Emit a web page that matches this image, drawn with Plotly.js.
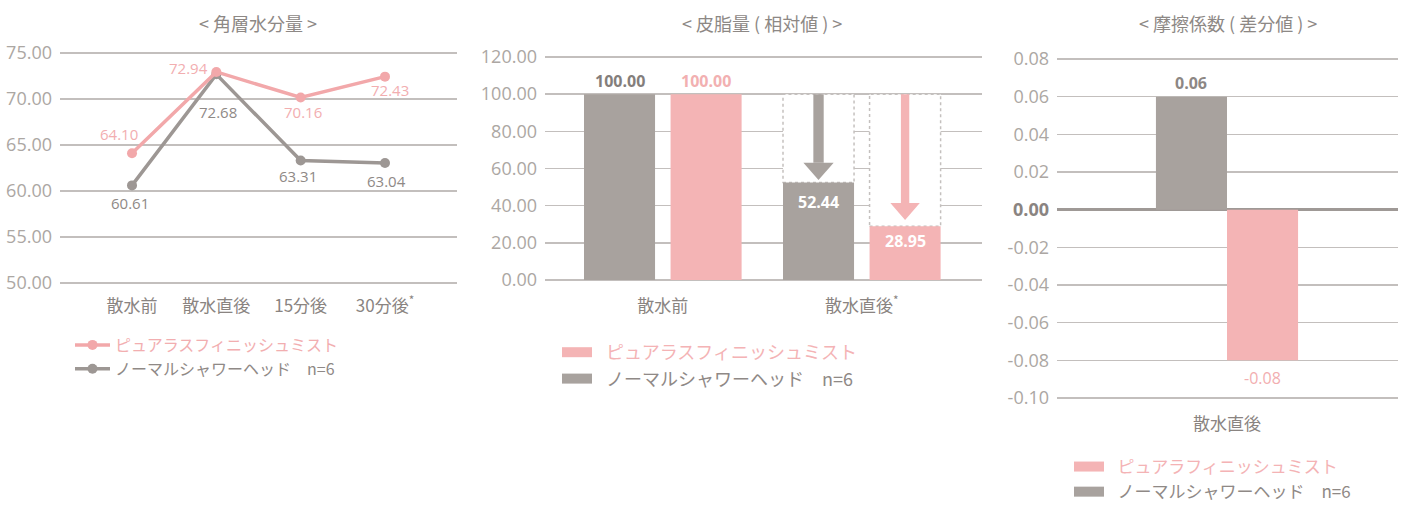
<!DOCTYPE html>
<html><head><meta charset="utf-8">
<script src="https://cdn.plot.ly/plotly-3.0.1.min.js"></script>
<style>html,body{margin:0;padding:0;background:#fff}#chart{width:1405px;height:505px}</style>
</head><body><div id="chart"></div>
<script>
// ---------- data ----------
const moistureCategories = ['散水前', '散水直後', '15分後', '30分後'];
const moistureTickText = ['散水前', '散水直後', '15分後', '30分後<sup>*</sup>'];
const moisturePure = [64.10, 72.94, 70.16, 72.43];
const moistureNormal = [60.61, 72.68, 63.31, 63.04];

const sebumCategories = ['散水前', '散水直後'];
const sebumTickText = ['散水前', '散水直後<sup>*</sup>'];
const sebumPure = [100.00, 28.95];
const sebumNormal = [100.00, 52.44];

const frictionCategories = ['散水直後'];
const frictionPure = [-0.08];
const frictionNormal = [0.06];
const frictionTickVals = [-0.10, -0.08, -0.06, -0.04, -0.02, 0.00, 0.02, 0.04, 0.06, 0.08];

const seriesPure = 'ピュアラスフィニッシュミスト';
const seriesPureFriction = 'ピュアラフィニッシュミスト';
const seriesNormal = 'ノーマルシャワーヘッド';
const sampleNote = 'n=6';
const chartTitles = ['< 角層水分量 >', '< 皮脂量 ( 相対値 ) >', '< 摩擦係数 ( 差分値 ) >'];

// ---------- style ----------
const W = 1405, H = 505;
const NUM = "'Open Sans', 'Noto Sans CJK JP', sans-serif";
const CJK = "'Noto Sans CJK JP', 'Open Sans', sans-serif";
const PINK_LINE = '#f2a8aa', GRAY_LINE = '#9d9794';
const PINK_BAR = '#f4b4b5', GRAY_BAR = '#a8a29e';
const PINK_TXT = '#f2aeb0', GRAY_TXT = '#8f8986';
const TICK = '#aca7a3', CAT = '#8a8481', GRID = '#c3bfbd';
const px = v => v / W, py = v => 1 - v / H;

const BW = 0.357;
const midOff = {normal: -0.396, pure: 0.039};
const rightOff = {normal: -0.357, pure: 0};

const traces = [];
// left line chart
traces.push({type: 'scatter', mode: 'lines+markers', x: moistureCategories, y: moistureNormal,
  name: '<span style="color:#8f8986">' + seriesNormal + '\u3000' + sampleNote + '</span>',
  line: {color: GRAY_LINE, width: 3.5}, marker: {color: GRAY_LINE, size: 10},
  xaxis: 'x', yaxis: 'y', legend: 'legend', legendrank: 2, hoverinfo: 'skip'});
traces.push({type: 'scatter', mode: 'lines+markers', x: moistureCategories, y: moisturePure,
  name: '<span style="color:#f2aeb0">' + seriesPure + '</span>',
  line: {color: PINK_LINE, width: 3.5}, marker: {color: PINK_LINE, size: 10},
  xaxis: 'x', yaxis: 'y', legend: 'legend', legendrank: 1, hoverinfo: 'skip'});

// middle bars
traces.push({type: 'bar', x: sebumCategories, y: sebumNormal, marker: {color: GRAY_BAR},
  width: BW, offset: midOff.normal, xaxis: 'x2', yaxis: 'y2', showlegend: false, hoverinfo: 'skip'});
traces.push({type: 'bar', x: sebumCategories, y: sebumPure, marker: {color: PINK_BAR},
  width: BW, offset: midOff.pure, xaxis: 'x2', yaxis: 'y2', showlegend: false, hoverinfo: 'skip'});
// right bars
traces.push({type: 'bar', x: frictionCategories, y: frictionNormal, marker: {color: GRAY_BAR},
  width: BW, offset: rightOff.normal, xaxis: 'x3', yaxis: 'y3', showlegend: false, hoverinfo: 'skip'});
traces.push({type: 'bar', x: frictionCategories, y: frictionPure, marker: {color: PINK_BAR},
  width: BW, offset: rightOff.pure, xaxis: 'x3', yaxis: 'y3', showlegend: false, hoverinfo: 'skip'});

// legend-only entries for the bar charts
function legendEntry(name, color, xa, ya, lg, lw) {
  return {type: 'scatter', mode: 'lines', x: [null], y: [null], name: name,
    line: {color: color, width: lw}, xaxis: xa, yaxis: ya, legend: lg, hoverinfo: 'skip'};
}
const SP = '\u2002';
traces.push(legendEntry(SP + '<span style="color:#f4b3b5">' + seriesPure + '</span>', PINK_BAR, 'x2', 'y2', 'legend2', 10));
traces.push(legendEntry(SP + '<span style="color:#8f8986">' + seriesNormal + '\u3000' + sampleNote + '</span>', GRAY_BAR, 'x2', 'y2', 'legend2', 10));
traces.push(legendEntry(SP + '<span style="color:#f4b3b5">' + seriesPureFriction + '</span>', PINK_BAR, 'x3', 'y3', 'legend3', 11));
traces.push(legendEntry(SP + '<span style="color:#8f8986">' + seriesNormal + '\u3000' + sampleNote + '</span>', GRAY_BAR, 'x3', 'y3', 'legend3', 11));

// ---------- annotations ----------
const ann = [];
chartTitles.forEach((t, i) => {
  const cx = [258, 762, 1228][i];
  ann.push({xref: 'paper', yref: 'paper', x: px(cx), y: py(23), text: t, showarrow: false,
    xanchor: 'center', yanchor: 'middle', font: {family: CJK, size: 18, color: '#8d8885'}});
});
const pureShift = [[-13, 19], [-28, 4], [2, -14], [5, -13]];
const normalShift = [[-2, -18], [2, -38], [-3, -15], [2, -18]];
moistureCategories.forEach((c, i) => {
  ann.push({xref: 'x', yref: 'y', x: i, y: moisturePure[i], text: moisturePure[i].toFixed(2),
    showarrow: false, xshift: pureShift[i][0], yshift: pureShift[i][1],
    font: {family: NUM, size: 15, color: PINK_TXT}});
  ann.push({xref: 'x', yref: 'y', x: i, y: moistureNormal[i], text: moistureNormal[i].toFixed(2),
    showarrow: false, xshift: normalShift[i][0], yshift: normalShift[i][1],
    font: {family: NUM, size: 15, color: GRAY_TXT}});
});
// middle labels
const gC = midOff.normal + BW / 2, pC = midOff.pure + BW / 2;
ann.push({xref: 'x2', yref: 'y2', x: 0 + gC, y: sebumNormal[0], text: '<b>' + sebumNormal[0].toFixed(2) + '</b>',
  showarrow: false, yshift: 13, font: {family: NUM, size: 16, color: '#847e7b'}});
ann.push({xref: 'x2', yref: 'y2', x: 0 + pC, y: sebumPure[0], text: '<b>' + sebumPure[0].toFixed(2) + '</b>',
  showarrow: false, yshift: 13, font: {family: NUM, size: 16, color: '#f2b0b1'}});
ann.push({xref: 'x2', yref: 'y2', x: 1 + gC, y: sebumNormal[1], text: '<b>' + sebumNormal[1].toFixed(2) + '</b>',
  showarrow: false, yshift: -19, font: {family: NUM, size: 16, color: '#ffffff'}});
ann.push({xref: 'x2', yref: 'y2', x: 1 + pC, y: sebumPure[1], text: '<b>' + sebumPure[1].toFixed(2) + '</b>',
  showarrow: false, yshift: -15, font: {family: NUM, size: 16, color: '#ffffff'}});
// right labels
const rgC = rightOff.normal + BW / 2, rpC = rightOff.pure + BW / 2;
ann.push({xref: 'x3', yref: 'y3', x: rgC, y: frictionNormal[0], text: '<b>' + frictionNormal[0].toFixed(2) + '</b>',
  showarrow: false, yshift: 14, font: {family: NUM, size: 16, color: '#8d8784'}});
ann.push({xref: 'x3', yref: 'y3', x: rpC, y: frictionPure[0], text: frictionPure[0].toFixed(2),
  showarrow: false, yshift: -18, font: {family: NUM, size: 16, color: PINK_TXT}});

// ---------- shapes: dotted ghost boxes + arrows ----------
const shapes = [];
const ref = sebumNormal[0];
[[midOff.normal, sebumNormal[1]], [midOff.pure, sebumPure[1]]].forEach(([off, v]) => {
  shapes.push({type: 'rect', xref: 'x2', yref: 'y2', x0: 1 + off, x1: 1 + off + BW, y0: v, y1: ref,
    fillcolor: '#ffffff', line: {color: '#c4c0be', width: 1.5, dash: 'dot'}, layer: 'between'});
});
function arrow(cx, top, tip, shaftHalf, headHalf, headLen, color) {
  const base = tip + headLen;
  shapes.push({type: 'rect', xref: 'x2', yref: 'y2', x0: cx - shaftHalf, x1: cx + shaftHalf, y0: base, y1: top,
    fillcolor: color, line: {width: 0}, layer: 'above'});
  shapes.push({type: 'path', xref: 'x2', yref: 'y2',
    path: `M ${cx - headHalf},${base} L ${cx + headHalf},${base} L ${cx},${tip} Z`,
    fillcolor: color, line: {width: 0}, layer: 'above'});
}
arrow(1 + gC, ref, sebumNormal[1] + 1.4, 0.026, 0.076, 9.2, GRAY_BAR);
arrow(1 + pC, ref, sebumPure[1] + 3.3, 0.021, 0.074, 9.2, PINK_BAR);

// ---------- axes ----------
const yCommon = {showgrid: true, gridcolor: GRID, gridwidth: 1.5, zeroline: false, showline: false,
  ticks: '', ticklabelstandoff: 7, tickfont: {family: NUM, size: 18, color: TICK}, fixedrange: true};
const xCommon = {showgrid: false, zeroline: false, showline: false, ticks: '', type: 'category',
  tickfont: {family: CJK, size: 17, color: CAT}, fixedrange: true};

const layout = {
  width: W, height: H, autosize: false,
  margin: {l: 0, r: 0, t: 0, b: 0, pad: 0, autoexpand: false},
  paper_bgcolor: '#ffffff', plot_bgcolor: '#ffffff',
  showlegend: true, barmode: 'overlay',
  xaxis: Object.assign({}, xCommon, {domain: [px(60), px(457)], range: [-0.854, 3.854], anchor: 'y',
    tickvals: moistureCategories, ticktext: moistureTickText, ticklabelstandoff: 9}),
  yaxis: Object.assign({}, yCommon, {domain: [0.4360, 0.8987], range: [49.8, 75.2], tick0: 50, dtick: 5,
    tickformat: '.2f', anchor: 'x'}),
  xaxis2: Object.assign({}, xCommon, {domain: [px(545), px(982)], range: [-0.592, 1.604], anchor: 'y2',
    tickvals: sebumCategories, ticktext: sebumTickText, ticklabelstandoff: 12}),
  yaxis2: Object.assign({}, yCommon, {domain: [0.44186, 0.89265], range: [-1, 121.5], tick0: 0, dtick: 20,
    tickformat: '.2f', anchor: 'x2'}),
  xaxis3: Object.assign({}, xCommon, {domain: [px(1057), px(1398)], range: [-0.854, 0.859], anchor: 'y3',
    tickvals: frictionCategories, ticktext: frictionCategories, ticklabelstandoff: 11}),
  yaxis3: Object.assign({}, yCommon, {domain: [0.20630, 0.88875], range: [-0.1015, 0.0815],
    tickvals: frictionTickVals,
    ticktext: frictionTickVals.map(v => v === 0 ? '<b><span style="color:#8a8481">0.00</span></b>' : v.toFixed(2)),
    zeroline: true, zerolinecolor: '#9f9996', zerolinewidth: 3.5, anchor: 'x3'}),
  legend: {x: px(70), y: py(328), xanchor: 'left', yanchor: 'top', bgcolor: 'rgba(0,0,0,0)',
    borderwidth: 0, itemwidth: 35, font: {family: CJK, size: 16, color: GRAY_TXT}},
  legend2: {x: px(557), y: py(334), xanchor: 'left', yanchor: 'top', bgcolor: 'rgba(0,0,0,0)',
    borderwidth: 0, itemwidth: 30, font: {family: CJK, size: 18, color: GRAY_TXT}},
  legend3: {x: px(1069), y: py(449), xanchor: 'left', yanchor: 'top', bgcolor: 'rgba(0,0,0,0)',
    borderwidth: 0, itemwidth: 30, font: {family: CJK, size: 17, color: GRAY_TXT}},
  annotations: ann,
  shapes: shapes
};

Plotly.newPlot('chart', traces, layout, {staticPlot: true, displayModeBar: false});
</script>
</body></html>
